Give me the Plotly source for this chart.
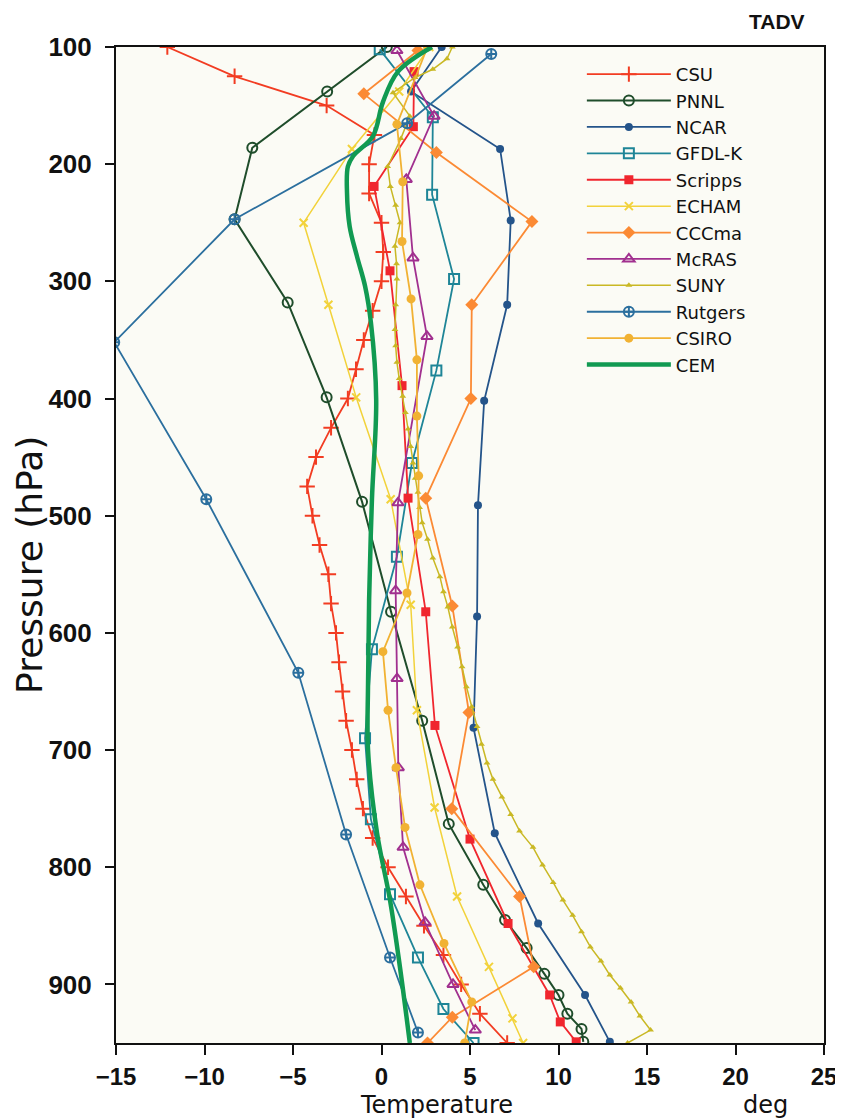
import plotly.graph_objects as go

# ---- data (temperature advection, deg vs pressure hPa) ----
csu_p = [100,125,150,175,200,225,250,275,300,325,350,375,400,425,450,475,500,525,550,575,600,625,650,675,700,725,750,775,800,825,850,875,900,925,950]
csu_t = [-12.1,-8.3,-3.1,-0.4,-0.7,-0.7,0.0,0.1,0.0,-0.5,-1.0,-1.44,-1.9,-2.85,-3.7,-4.2,-3.9,-3.5,-3.0,-2.85,-2.57,-2.4,-2.2,-2.0,-1.67,-1.4,-1.05,-0.5,0.37,1.38,2.4,3.5,4.5,5.56,7.1]

pnnl_p = [100,138,186,247,318,399,488,582,675,763,815,845,869,891,909,925,938,949]
pnnl_t = [0.3,-3.07,-7.3,-8.3,-5.3,-3.1,-1.1,0.54,2.3,3.8,5.75,6.98,8.2,9.2,10.0,10.5,11.3,11.4]

ncar_p = [100,138,187,248,320,402,491,586,681,771,848,909,949]
ncar_t = [3.4,1.67,6.7,7.3,7.1,5.8,5.45,5.4,5.2,6.4,8.85,11.5,12.9]

gfdl_p = [102,160,226,298,376,455,535,614,690,759,823,877,921,950]
gfdl_t = [-0.1,2.9,2.86,4.1,3.1,1.72,0.87,-0.54,-0.93,-0.6,0.48,2.06,3.5,5.2]

scripps_p = [121,168,219,291,389,485,582,679,776,848,909,932,949]
scripps_t = [1.84,1.8,-0.42,0.48,1.16,1.5,2.5,3.02,5.0,7.15,9.5,10.1,11.0]

echam_p = [100,138,187,250,320,399,486,576,666,749,825,885,929,950]
echam_t = [2.7,1.0,-1.67,-4.4,-3.0,-1.43,0.52,1.65,2.0,3.0,4.27,6.07,7.4,8.0]

cccma_p = [103,140,190,249,320,400,485,577,668,750,825,885,928,950]
cccma_t = [2.06,-1.0,3.1,8.5,5.1,5.05,2.5,4.0,4.94,3.97,7.8,8.6,4.0,2.6]

mcras_p = [103,159,213,280,347,489,564,639,715,783,847,900,939]
mcras_t = [0.87,2.97,1.4,1.78,2.57,0.93,0.8,0.88,0.95,1.22,2.46,4.04,5.3]

suny_p = [100,110,119,126,139,159,178,202,219,235,250,270,285,298,320,341,355,369,383,398,412,426,441,455,468,480,493,506,520,536,552,565,578,595,612,629,646,663,680,695,711,725,740,755,769,783,798,813,828,841,855,868,880,892,903,915,927,939,950]
suny_t = [4.0,3.7,2.9,1.9,0.65,1.6,1.1,0.35,0.5,0.8,1.05,0.76,0.85,0.87,0.8,0.76,0.8,0.87,1.0,1.2,1.35,1.5,1.65,1.78,1.9,2.06,2.15,2.3,2.6,2.9,3.3,3.5,3.75,4.0,4.3,4.55,4.8,5.1,5.4,5.65,5.96,6.3,6.8,7.3,7.8,8.56,9.1,9.7,10.25,10.8,11.3,11.8,12.4,12.9,13.5,14.1,14.6,15.2,13.9]

rutgers_p = [106,165,247,352,486,634,772,877,941]
rutgers_t = [6.2,1.45,-8.3,-15.1,-9.9,-4.7,-2.0,0.48,2.06]

csiro_p = [100,166,215,266,315,367,415,466,516,566,616,666,715,766,815,865,915,950]
csiro_t = [2.6,0.87,1.2,1.16,1.67,2.0,2.0,2.1,2.06,1.44,0.08,0.37,0.82,1.33,2.17,3.53,5.1,4.7]

cem_p = [100,121,147,176,193,202,224,253,279,304,335,401,486,572,643,700,771,828,885,950]
cem_t = [2.85,0.93,0.08,-0.48,-1.6,-1.9,-1.95,-1.8,-1.38,-0.93,-0.6,-0.3,-0.54,-0.7,-0.76,-0.76,-0.25,0.48,1.04,1.6]

x_ticks = [-15, -10, -5, 0, 5, 10, 15, 20, 25]
y_ticks = [100, 200, 300, 400, 500, 600, 700, 800, 900]

series = [
    ("CSU", csu_t, csu_p, "#f23c22", "cross-thin", 11, 1.8),
    ("PNNL", pnnl_t, pnnl_p, "#1f4d2b", "circle-open", 10, 2.0),
    ("NCAR", ncar_t, ncar_p, "#24548a", "circle", 8, 1.8),
    ("GFDL-K", gfdl_t, gfdl_p, "#1e8597", "square-open", 10, 1.8),
    ("Scripps", scripps_t, scripps_p, "#f0262e", "square", 9, 1.8),
    ("ECHAM", echam_t, echam_p, "#f2d23a", "x-thin", 8, 1.5),
    ("CCCma", cccma_t, cccma_p, "#fb8a34", "diamond", 10, 1.8),
    ("McRAS", mcras_t, mcras_p, "#a1308f", "triangle-up-open", 10, 1.8),
    ("SUNY", suny_t, suny_p, "#c9b824", "triangle-up", 6, 1.5),
    ("Rutgers", rutgers_t, rutgers_p, "#2b6f9e", "circle-cross-open", 10, 1.8),
    ("CSIRO", csiro_t, csiro_p, "#f1b233", "circle", 9, 1.8),
]

fig = go.Figure()
for name, t, p, col, sym, size, lw in series:
    mk = dict(symbol=sym, size=size, color=col)
    if sym.endswith("thin") or sym.endswith("open"):
        mk["line"] = dict(color=col, width=2)
    fig.add_trace(go.Scatter(x=t, y=p, mode="lines+markers", name=name,
                             line=dict(color=col, width=lw), marker=mk))

fig.add_trace(go.Scatter(x=cem_t, y=cem_p, mode="lines", name="CEM",
                         line=dict(color="#119a52", width=4.5, shape="spline")))

font_main = "Liberation Sans"
# page body has an 8px margin, so the figure is sized 8px smaller
fig.update_layout(
    width=835, height=1110,
    margin=dict(l=108, r=19, t=39, b=75),
    paper_bgcolor="#ffffff",
    plot_bgcolor="#fbfbf5",
    showlegend=True,
    legend=dict(x=0.658, y=0.991, xanchor="left", yanchor="top",
                bgcolor="rgba(0,0,0,0)", borderwidth=0,
                font=dict(family="DejaVu Sans", size=18, color="#111111"),
                itemwidth=84, tracegroupgap=0),
    xaxis=dict(range=[-15, 25], tickvals=x_ticks, ticktext=[str(v).replace("-", "\u2212") for v in x_ticks],
               automargin=False,
               showgrid=False, zeroline=False, showline=True, linecolor="#111111", linewidth=2,
               mirror=True, ticks="outside", ticklen=10, tickwidth=1.5, tickcolor="#111111",
               ticklabelstandoff=1,
               tickfont=dict(family=font_main, size=24, color="#111111", weight="bold")),
    yaxis=dict(range=[950, 100], tickvals=y_ticks, automargin=False,
               showgrid=False, zeroline=False, showline=True, linecolor="#111111", linewidth=2,
               mirror=True, ticks="outside", ticklen=9, tickwidth=1.5, tickcolor="#111111",
               ticklabelstandoff=8,
               tickfont=dict(family=font_main, size=26, color="#111111", weight="bold")),
    annotations=[
        dict(text="TADV", xref="paper", yref="paper", x=0.933, y=1.0, yshift=12,
             xanchor="center", yanchor="bottom", showarrow=False,
             font=dict(family=font_main, size=21, color="#111111", weight="bold")),
        dict(text="Temperature", xref="paper", yref="paper", x=0.452, y=0, yshift=-62,
             xanchor="center", yanchor="middle", showarrow=False,
             font=dict(family="DejaVu Sans", size=24, color="#111111")),
        dict(text="deg", xref="paper", yref="paper", x=0.917, y=0, yshift=-62,
             xanchor="center", yanchor="middle", showarrow=False,
             font=dict(family="DejaVu Sans", size=24, color="#111111")),
        dict(text="Pressure (hPa)", xref="paper", yref="paper", x=0, xshift=-86, y=0.48,
             xanchor="center", yanchor="middle", textangle=-90, showarrow=False,
             font=dict(family="DejaVu Sans", size=36, color="#111111")),
    ],
)

fig.write_html("out.html")
